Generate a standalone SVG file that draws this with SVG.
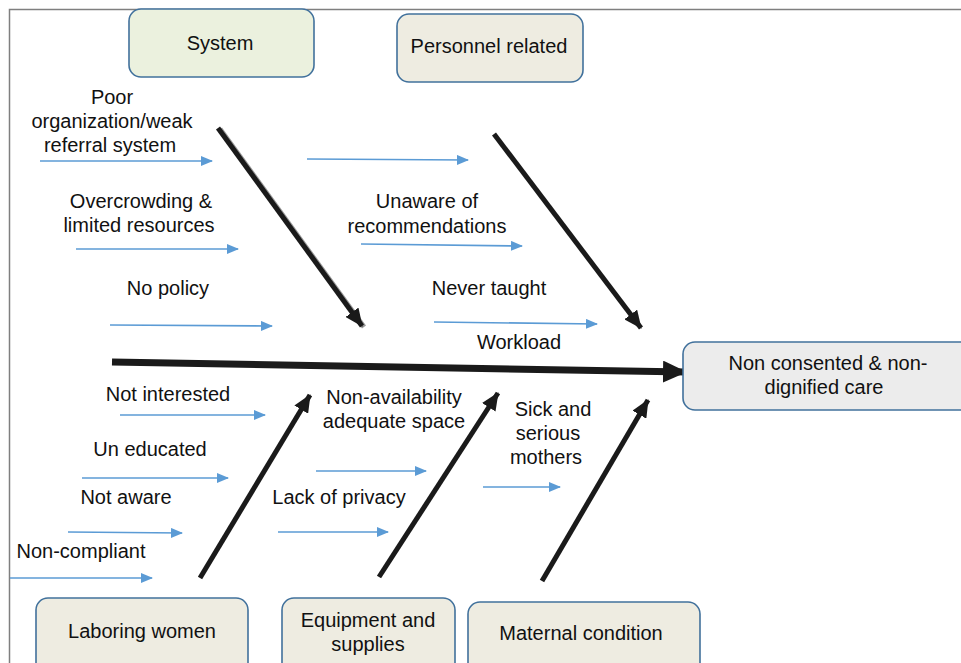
<svg xmlns="http://www.w3.org/2000/svg" width="961" height="663" viewBox="0 0 961 663">
<style>
text{font-family:"Liberation Sans",Arial,sans-serif;font-size:20px;fill:#111;text-anchor:middle}
.box{stroke:#41719c;stroke-width:1.6}
.blue{stroke:#5b9bd5;stroke-width:1.6;fill:none;marker-end:url(#ab)}
.bone{stroke:#1a1a1a;stroke-width:5;fill:none;marker-end:url(#ak)}
.spine{stroke:#1a1a1a;stroke-width:7;fill:none;marker-end:url(#as)}
</style>
<defs>
<marker id="ab" markerUnits="userSpaceOnUse" markerWidth="12" markerHeight="10" refX="11" refY="5" orient="auto"><path d="M0,0 L12,5 L0,10 Z" fill="#5b9bd5"/></marker>
<marker id="ak" markerUnits="userSpaceOnUse" markerWidth="18" markerHeight="16" refX="17" refY="8" orient="auto"><path d="M0,0 L18,8 L0,16 Z" fill="#1a1a1a"/></marker>
<marker id="as" markerUnits="userSpaceOnUse" markerWidth="24" markerHeight="22" refX="23" refY="11" orient="auto"><path d="M0,0 L24,11 L0,22 Z" fill="#1a1a1a"/></marker>
</defs>
<rect width="961" height="663" fill="#fff"/>
<path d="M9.5,663 V9.5 H961" fill="none" stroke="#7f7f7f" stroke-width="1.5"/>

<g id="connectors">
<line x1="112" y1="362" x2="686" y2="372" class="spine"/>
<line x1="220" y1="129" x2="364" y2="327" stroke="#999" stroke-width="5"/>
<line x1="218" y1="128" x2="362" y2="326" class="bone"/>
<line x1="494" y1="134" x2="641" y2="328" class="bone"/>
<line x1="200" y1="578" x2="310" y2="395" class="bone"/>
<line x1="379" y1="577" x2="498" y2="393" class="bone"/>
<line x1="542" y1="581" x2="648" y2="400" class="bone"/>
<line x1="40" y1="161" x2="212" y2="161" class="blue"/>
<line x1="307" y1="159" x2="468" y2="160" class="blue"/>
<line x1="76" y1="249" x2="238" y2="249" class="blue"/>
<line x1="361" y1="244" x2="522" y2="246" class="blue"/>
<line x1="110" y1="325" x2="272" y2="326" class="blue"/>
<line x1="434" y1="322" x2="597" y2="324" class="blue"/>
<line x1="120" y1="415" x2="265" y2="415" class="blue"/>
<line x1="82" y1="478" x2="228" y2="478" class="blue"/>
<line x1="68" y1="532" x2="182" y2="533" class="blue"/>
<line x1="10" y1="578" x2="152" y2="578" class="blue"/>
<line x1="316" y1="471" x2="426" y2="471" class="blue"/>
<line x1="278" y1="532" x2="388" y2="532" class="blue"/>
<line x1="483" y1="487" x2="560" y2="487" class="blue"/>
</g>

<g id="system"><rect x="129" y="9" width="185" height="68" rx="12" fill="#ebf1de" class="box"/><text x="220" y="50">System</text></g>
<g id="personnel"><rect x="397" y="14" width="186" height="68" rx="12" fill="#eeece1" class="box"/><text x="489" y="53">Personnel related</text></g>
<g id="outcome"><rect x="683" y="342" width="290" height="68" rx="12" fill="#ececec" class="box"/><text x="828" y="370">Non consented &amp; non-</text><text x="824" y="394">dignified care</text></g>
<g id="laboring"><rect x="36" y="598" width="212" height="80" rx="12" fill="#eeece1" class="box"/><text x="142" y="638">Laboring women</text></g>
<g id="equipment"><rect x="282" y="598" width="173" height="80" rx="12" fill="#eeece1" class="box"/><text x="368" y="627">Equipment and</text><text x="368" y="651">supplies</text></g>
<g id="maternal"><rect x="468" y="602" width="232" height="80" rx="12" fill="#eeece1" class="box"/><text x="581" y="640">Maternal condition</text></g>

<g id="causes">
<text x="112" y="104">Poor</text>
<text x="112" y="128">organization/weak</text>
<text x="110" y="152">referral system</text>
<text x="141" y="208">Overcrowding &amp;</text>
<text x="139" y="232">limited resources</text>
<text x="168" y="295">No policy</text>
<text x="427" y="208">Unaware of</text>
<text x="427" y="233">recommendations</text>
<text x="489" y="295">Never taught</text>
<text x="519" y="349">Workload</text>
<text x="168" y="401">Not interested</text>
<text x="150" y="456">Un educated</text>
<text x="126" y="504">Not aware</text>
<text x="81" y="558">Non-compliant</text>
<text x="394" y="404">Non-availability</text>
<text x="394" y="428">adequate space</text>
<text x="339" y="504">Lack of privacy</text>
<text x="553" y="416">Sick and</text>
<text x="548" y="440">serious</text>
<text x="546" y="464">mothers</text>
</g>
</svg>
